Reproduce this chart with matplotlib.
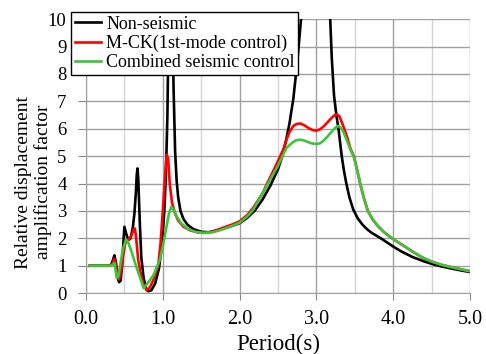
import matplotlib
matplotlib.use("Agg")
import matplotlib.pyplot as plt
from matplotlib.ticker import MultipleLocator

plt.rcParams["font.family"] = "serif"
plt.rcParams["font.serif"] = ["Liberation Serif", "Times New Roman", "DejaVu Serif"]

# Non-seismic
t_non = [0.05, 0.30, 0.33, 0.35, 0.37, 0.39, 0.41, 0.43, 0.45, 0.47, 0.49, 0.50,
         0.52, 0.55, 0.58, 0.61, 0.63, 0.65, 0.66, 0.67, 0.68, 0.70, 0.72, 0.75,
         0.78, 0.81, 0.85, 0.90, 0.95, 0.99, 1.02, 1.04, 1.06, 1.08, 1.10, 1.12,
         1.14, 1.16, 1.18, 1.20, 1.23, 1.27, 1.32, 1.40, 1.50, 1.60, 1.75, 1.90,
         2.00, 2.10, 2.20, 2.30, 2.40, 2.50, 2.55, 2.60, 2.65, 2.70, 2.75, 2.80,
         2.85, 2.90, 3.00, 3.10, 3.15, 3.18, 3.20, 3.23, 3.26, 3.29, 3.33, 3.36,
         3.39, 3.43, 3.48, 3.54, 3.60, 3.66, 3.72, 3.78, 3.85, 3.92, 4.00, 4.10,
         4.25, 4.40, 4.50, 4.62, 4.75, 4.88, 5.00]
v_non = [1.0, 1.0, 1.05, 1.2, 1.38, 1.1, 0.6, 0.4, 0.45, 1.0, 2.0, 2.42,
         2.2, 1.93, 2.0, 2.4, 2.9, 3.7, 4.3, 4.55, 4.2, 2.6, 1.3, 0.55,
         0.2, 0.07, 0.1, 0.35, 0.9, 1.8, 3.0, 4.3, 6.5, 11.0, 14.0, 11.0,
         7.5, 5.2, 4.1, 3.5, 3.0, 2.7, 2.5, 2.33, 2.24, 2.22, 2.32, 2.45,
         2.55, 2.75, 3.02, 3.42, 3.92, 4.52, 4.95, 5.5, 6.2, 7.1, 8.4, 10.0,
         12.5, 16.0, 20.0, 16.0, 11.5, 10.0, 8.6, 7.2, 6.5, 5.95, 5.0, 4.45,
         4.0, 3.5, 3.05, 2.72, 2.5, 2.33, 2.2, 2.1, 1.98, 1.85, 1.7, 1.53,
         1.32, 1.16, 1.07, 0.98, 0.9, 0.83, 0.77]

# M-CK (1st-mode control)
t_mck = [0.05, 0.31, 0.34, 0.37, 0.39, 0.41, 0.43, 0.45, 0.48, 0.51, 0.53, 0.56,
         0.59, 0.62, 0.635, 0.65, 0.68, 0.72, 0.75, 0.79, 0.83, 0.88, 0.94, 0.97,
         1.00, 1.03, 1.05, 1.07, 1.09, 1.12, 1.16, 1.20, 1.27, 1.35, 1.45, 1.55,
         1.65, 1.75, 1.90, 2.00, 2.10, 2.18, 2.30, 2.35, 2.42, 2.50, 2.57, 2.61,
         2.65, 2.70, 2.74, 2.79, 2.84, 2.90, 2.95, 3.00, 3.05, 3.10, 3.15, 3.20,
         3.24, 3.27, 3.30, 3.35, 3.40, 3.44, 3.49, 3.53, 3.57, 3.62, 3.67, 3.73,
         3.80, 3.88, 3.96, 4.05, 4.13, 4.26, 4.38, 4.50, 4.62, 4.75, 4.88, 5.00]
v_mck = [1.0, 1.0, 1.05, 1.25, 1.0, 0.6, 0.5, 0.7, 1.3, 1.8, 1.95, 1.95,
         2.1, 2.33, 2.36, 2.1, 1.2, 0.6, 0.3, 0.1, 0.2, 0.5, 1.0, 1.8,
         3.0, 4.3, 5.05, 4.9, 4.0, 3.3, 2.9, 2.65, 2.42, 2.3, 2.22, 2.2,
         2.25, 2.35, 2.5, 2.62, 2.85, 3.12, 3.65, 3.95, 4.35, 4.82, 5.25, 5.6,
         5.88, 6.1, 6.17, 6.19, 6.13, 6.02, 5.95, 5.93, 5.98, 6.1, 6.25, 6.4,
         6.5, 6.52, 6.45, 6.1, 5.7, 5.3, 4.98, 4.5, 4.0, 3.45, 3.0, 2.7,
         2.45, 2.23, 2.05, 1.88, 1.74, 1.5, 1.3, 1.15, 1.04, 0.95, 0.87, 0.8]

# Combined seismic control
t_comb = [0.05, 0.32, 0.35, 0.37, 0.39, 0.40, 0.42, 0.45, 0.48, 0.52, 0.55, 0.60,
          0.65, 0.70, 0.75, 0.80, 0.88, 0.92, 0.96, 1.00, 1.05, 1.08, 1.11, 1.14,
          1.18, 1.24, 1.32, 1.42, 1.52, 1.65, 1.75, 1.90, 2.00, 2.10, 2.18, 2.35,
          2.50, 2.61, 2.70, 2.74, 2.79, 2.84, 2.90, 2.95, 3.00, 3.05, 3.10, 3.15,
          3.20, 3.24, 3.28, 3.31, 3.35, 3.40, 3.45, 3.49, 3.53, 3.57, 3.62, 3.67,
          3.73, 3.80, 3.88, 3.96, 4.05, 4.13, 4.26, 4.38, 4.50, 4.62, 4.75, 4.88,
          5.00]
v_comb = [1.0, 1.0, 1.05, 1.1, 0.75, 0.55, 0.6, 1.1, 1.6, 1.95, 1.85, 1.45,
          1.0, 0.6, 0.18, 0.35, 0.66, 0.94, 1.2, 1.7, 2.45, 2.9, 3.15, 3.05,
          2.8, 2.55, 2.35, 2.24, 2.2, 2.22, 2.3, 2.45, 2.57, 2.8, 3.05, 3.9,
          4.65, 5.3, 5.52, 5.58, 5.6, 5.57, 5.5, 5.46, 5.44, 5.47, 5.58, 5.73,
          5.9, 6.02, 6.1, 6.06, 5.9, 5.55, 5.2, 4.95, 4.5, 4.0, 3.45, 3.0,
          2.7, 2.45, 2.23, 2.05, 1.88, 1.74, 1.5, 1.3, 1.15, 1.04, 0.95, 0.87,
          0.8]

fig = plt.figure(figsize=(4.86, 3.54), dpi=100)
ax = fig.add_axes([0.177, 0.172, 0.79, 0.774])

ax.plot(t_non, v_non, color="black", lw=1.9, label="Non-seismic", zorder=3)
ax.plot(t_mck, v_mck, color="#ff0000", lw=1.9, label="M-CK(1st-mode control)", zorder=4)
ax.plot(t_comb, v_comb, color="#3cc43c", lw=1.9, label="Combined seismic control", zorder=5)

ax.set_xlim(0, 5)
ax.set_ylim(0, 10)
ax.xaxis.set_major_locator(MultipleLocator(1.0))
ax.xaxis.set_minor_locator(MultipleLocator(0.5))
ax.yaxis.set_major_locator(MultipleLocator(1))
ax.set_xticklabels([f"{x:.1f}" for x in ax.get_xticks()])

ax.grid(which="major", color="#a0a0a0", lw=1.0)
ax.grid(which="minor", axis="x", color="#d4d4d4", lw=1.0)
ax.tick_params(axis="x", which="major", labelsize=14.5, length=5, color="#888888", pad=7)
ax.tick_params(axis="x", which="minor", length=0)
ax.tick_params(axis="y", labelsize=13.5, length=6, color="#888888", pad=8)
for s in ax.spines.values():
    s.set_color("#a0a0a0")
ax.spines["top"].set_visible(False)
ax.spines["right"].set_visible(False)

ax.set_xlabel("Period(s)", fontsize=16.5, labelpad=4)
ax.set_ylabel("Relative displacement\namplification factor", fontsize=14)
ax.yaxis.set_label_coords(-0.088, 0.405)

leg = fig.legend(loc="upper left", bbox_to_anchor=(0.146, 0.966), fontsize=13,
                 frameon=True, fancybox=False, framealpha=1, edgecolor="black",
                 borderpad=0.2, labelspacing=0.12, handlelength=1.45,
                 handletextpad=0.3, borderaxespad=0)
leg.get_frame().set_linewidth(1.0)

fig.savefig("out.png", dpi=100)
